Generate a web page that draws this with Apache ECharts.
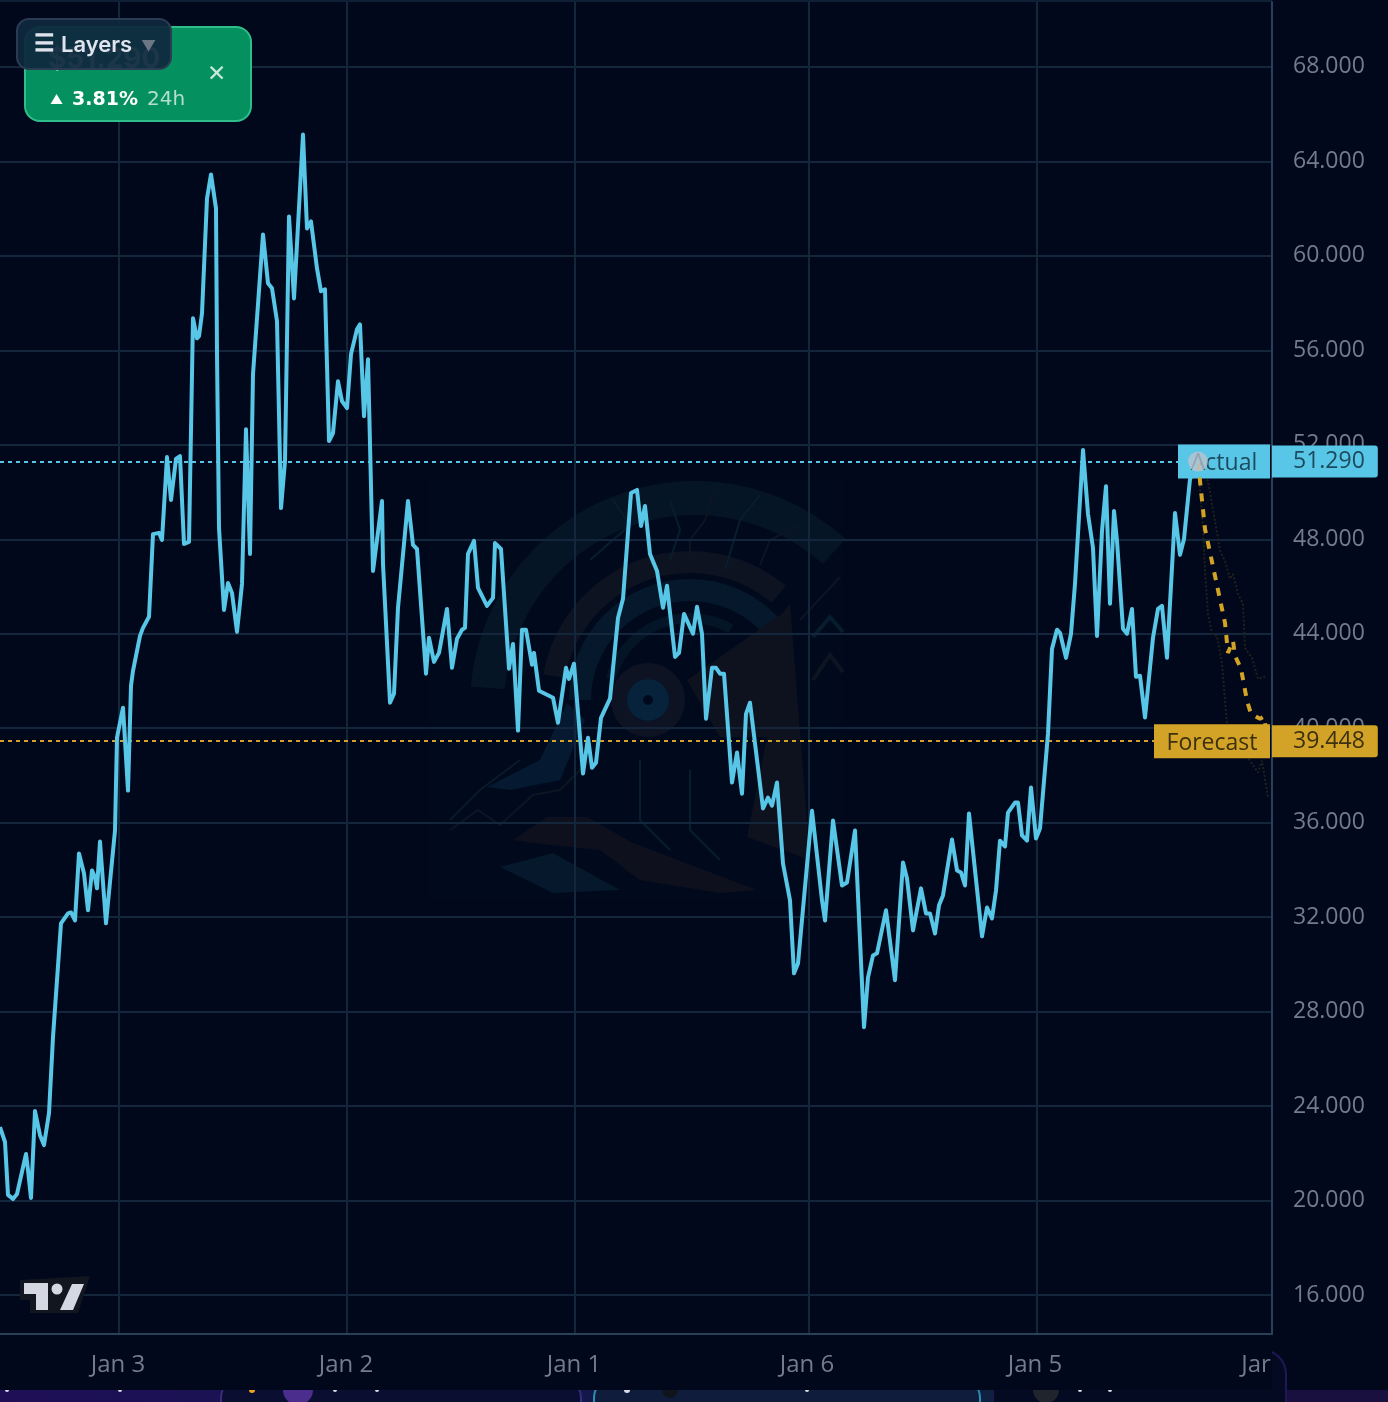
<!DOCTYPE html>
<html>
<head>
<meta charset="utf-8">
<title>Actual vs Forecast</title>
<style>
html, body { margin: 0; padding: 0; background: #01081b; }
#main { width: 1388px; height: 1402px; filter: blur(0.6px); }
</style>
<script src="https://cdn.jsdelivr.net/npm/echarts@6/dist/echarts.min.js"></script>
</head>
<body>
<div id="main"></div>
<script>
// sample number along the time axis, one series of readings per array
var actualIdx = [
  0, 5, 8, 13, 17, 26, 28, 31, 35, 40, 44, 49, 53, 61, 68, 71, 75, 79, 84, 88, 92, 95, 97, 100, 106, 115,
  117, 123, 125, 128, 131, 133, 140, 143, 149, 153, 155, 159, 162, 167, 171, 176, 180, 184, 189, 193, 197, 199, 202, 207, 211, 216, 217, 219,
  224, 228, 232, 237, 242, 246, 250, 253, 263, 268, 272, 277, 281, 285, 289, 294, 303, 307, 311, 317, 321, 325, 329, 333, 338, 342, 347, 351, 357, 360, 364, 368,
  373, 382, 383, 390, 394, 398, 408, 413, 417, 426, 429, 434, 439, 447, 452, 457, 462, 465, 468, 474, 478, 487, 493, 495, 501, 509, 513, 518, 522, 526, 532, 534, 539,
  553, 558, 566, 569, 574, 583, 588, 592, 596, 601, 610, 618, 623, 631, 637, 641, 645, 650, 657, 663, 667, 675, 679, 684, 693, 697, 702, 706, 712, 716, 720, 724,
  732, 737, 742, 746, 750, 763, 768, 772, 777, 783, 790, 794, 798, 812, 822, 825, 833, 842, 847, 855, 864, 868, 873, 877, 886, 895, 903, 907, 913, 921, 926, 930, 935, 939, 943, 952, 957, 961, 965, 969,
  982, 987, 992, 996, 1000, 1005, 1008, 1015, 1018, 1022, 1027, 1031, 1036, 1040, 1048, 1052, 1057, 1060, 1066, 1071, 1075, 1083, 1088, 1093, 1097, 1102, 1106, 1110, 1114, 1117, 1123, 1127, 1132, 1136, 1140, 1145, 1153, 1158, 1162, 1167, 1175, 1180, 1184, 1190, 1198
];
var actualPrice = [
  23.11, 22.48, 20.24, 20.07, 20.28, 21.97, 21.29, 20.11, 23.79, 22.77, 22.35, 23.70, 26.92, 31.74, 32.16, 32.20, 31.86, 34.70, 33.85, 32.29, 33.98, 33.68, 33.22, 35.20, 31.74, 35.67,
  39.60, 40.87, 39.47, 37.36, 41.80, 42.43, 43.91, 44.25, 44.72, 48.22, 48.27, 48.27, 47.97, 51.48, 49.66, 51.40, 51.52, 47.80, 47.89, 57.36, 56.51, 56.60, 57.57, 62.43, 63.45, 62.01, 55.84, 48.48,
  45.01, 46.15, 45.73, 44.08, 46.11, 52.66, 47.38, 54.99, 60.91, 58.84, 58.63, 57.23, 49.32, 51.31, 61.67, 58.20, 65.14, 61.16, 61.46, 59.47, 58.50, 58.58, 52.16, 52.50, 54.69, 53.85, 53.55, 55.84, 56.89, 57.10, 53.21, 55.62,
  46.66, 49.62, 46.96, 41.08, 41.46, 45.10, 49.62, 47.76, 47.59, 42.31, 43.83, 42.81, 43.19, 45.05, 42.56, 43.79, 44.17, 44.25, 47.38, 47.93, 45.94, 45.18, 45.52, 47.84, 47.59, 42.52, 43.57, 39.90, 44.17, 44.17, 42.69, 43.19, 41.59,
  41.29, 40.23, 42.56, 42.09, 42.73, 38.08, 39.60, 38.33, 38.54, 40.44, 41.25, 44.67, 45.48, 49.96, 50.09, 48.56, 49.41, 47.38, 46.66, 45.10, 46.03, 43.02, 43.19, 44.84, 44.00, 45.14, 44.00, 40.40, 42.56, 42.56, 42.31, 42.31,
  37.70, 38.97, 37.23, 40.61, 41.08, 36.60, 37.06, 36.72, 37.70, 34.27, 32.71, 29.62, 30.04, 36.51, 32.71, 31.86, 36.09, 33.34, 33.47, 35.67, 27.34, 29.45, 30.38, 30.47, 32.29, 29.33, 34.31, 33.64, 31.44, 33.22, 32.16, 32.16, 31.31, 32.50, 32.92, 35.29, 33.98, 33.89, 33.34, 36.39,
  31.19, 32.41, 31.95, 33.13, 35.24, 34.99, 36.43, 36.85, 36.85, 35.46, 35.24, 37.49, 35.33, 35.75, 39.77, 43.36, 44.17, 44.04, 42.98, 44.00, 46.11, 51.78, 49.07, 47.63, 43.91, 48.35, 50.25, 45.27, 49.20, 47.93, 44.21, 44.00, 45.05, 42.18, 42.22, 40.45, 43.83, 45.05, 45.18, 42.98, 49.11, 47.34, 48.01, 50.55, 51.29
];
var forecastIdx = [1198, 1205, 1215, 1225, 1228, 1233, 1235, 1241, 1247, 1251, 1260, 1264, 1268];
var forecastPrice = [51.29, 48.44, 46.45, 44.46, 43.19, 43.70, 43.07, 42.52, 41.16, 40.61, 40.40, 40.49, 39.448];
var upperIdx = [1198, 1208, 1215, 1220, 1225, 1230, 1233, 1238, 1243, 1245, 1252, 1258, 1267];
var upperPrice = [51.29, 50.47, 48.77, 47.51, 47.08, 46.32, 46.53, 45.69, 45.27, 43.40, 42.98, 42.09, 42.22];
var lowerIdx = [1198, 1203, 1205, 1208, 1212, 1217, 1222, 1227, 1240, 1250, 1258, 1262, 1268];
var lowerPrice = [51.29, 48.44, 46.66, 44.84, 44.00, 43.91, 42.73, 40.19, 39.26, 38.63, 38.12, 38.63, 37.06];

var actualLast = 51.290;
var forecastLast = 39.448;
var priceTicks = [16, 20, 24, 28, 32, 36, 40, 44, 48, 52, 56, 60, 64, 68];
var dayTicks = [119, 347, 575, 809, 1037];
var dayLabelTicks = [118, 346, 574, 807, 1035, 1256];
var dayLabels = ['Jan 3', 'Jan 2', 'Jan 1', 'Jan 6', 'Jan 5', 'Jar'];

var BG = '#01081b';
var GRID = '#14263c';
var FRAME = '#2a4058';
var CYAN = '#58c6e6';
var GOLD = '#d2a326';
var AXIS_TEXT = '#737c8b';
var FONT = '"Open Sans", sans-serif';
var WIDE = '"DejaVu Sans", sans-serif';

function zip(xs, ys) {
  return xs.map(function (x, i) { return [x, ys[i]]; });
}

// faint helmet logo behind the line, bottom strip, and the panels over the chart
function arcEl(cx, cy, r, a0, a1, color, w) {
  return {
    type: 'arc', z: -1, silent: true,
    shape: { cx: cx, cy: cy, r: r, startAngle: a0 * Math.PI / 180, endAngle: a1 * Math.PI / 180 },
    style: { stroke: color, lineWidth: w, fill: null }
  };
}
function polyEl(pts, fill) {
  return { type: 'polygon', z: -1, silent: true, shape: { points: pts }, style: { fill: fill } };
}
function wireEl(pts, color, w) {
  return { type: 'polyline', z: -1, silent: true, shape: { points: pts }, style: { stroke: color, lineWidth: w || 2, fill: null } };
}
function textEl(x, y, text, size, color, weight, z, font) {
  return {
    type: 'text', z: z || 100, silent: true, x: x, y: y,
    style: { text: text, fontSize: size, fontFamily: font || '"Inter", sans-serif', fontWeight: weight || 400, fill: color, verticalAlign: 'middle' }
  };
}
function dotEl(x, color, r) {
  return { type: 'circle', z: -1, silent: true, shape: { cx: x, cy: 1390, r: r }, style: { fill: color } };
}

var logo = [
  { type: 'rect', z: -1, silent: true, shape: { x: 430, y: 480, width: 412, height: 420 }, style: { fill: 'rgba(6,24,44,0.12)' } },
  arcEl(695, 706, 208, 185, 312, '#061526', 34),
  arcEl(690, 700, 138, 190, 310, '#0e1321', 22),
  arcEl(690, 700, 110, 180, 318, '#05182c', 22),
  arcEl(690, 700, 82, 195, 300, '#051528', 10),
  arcEl(648, 700, 29, 0, 360, '#0d1322', 16),
  arcEl(648, 700, 13, 0, 360, '#06233b', 16),
  polyEl([[783, 613], [687, 680], [720, 737], [767, 737], [747, 837], [810, 860], [790, 603]], '#0e111e'),
  polyEl([[513, 840], [547, 817], [587, 817], [633, 843], [757, 890], [720, 893], [640, 880], [600, 850], [550, 845]], '#0e111d'),
  polyEl([[500, 867], [553, 853], [620, 890], [553, 893]], '#05182c'),
  polyEl([[487, 787], [540, 760], [567, 703], [585, 720], [560, 780], [510, 790]], '#051a30'),
  wireEl([[450, 820], [480, 790], [520, 760]], '#081a2b'),
  wireEl([[450, 830], [478, 810], [500, 825], [533, 795], [560, 790], [590, 760]], '#0d1522'),
  wireEl([[613, 500], [630, 525], [590, 560]], '#081d30'),
  wireEl([[670, 500], [680, 530], [670, 560]], '#081d30'),
  wireEl([[715, 490], [705, 520], [690, 540], [690, 560]], '#0d1522'),
  wireEl([[760, 495], [740, 520], [725, 570]], '#081d30'),
  wireEl([[800, 525], [770, 540], [760, 565]], '#0d1522'),
  wireEl([[800, 620], [840, 577]], '#0d1522'),
  wireEl([[813, 637], [830, 617], [843, 632]], '#071c2e', 4),
  wireEl([[813, 680], [830, 655], [843, 672]], '#0e1522', 4),
  wireEl([[640, 760], [640, 820], [670, 850]], '#081d30'),
  wireEl([[690, 770], [690, 830], [720, 860]], '#081d30'),
  { type: 'rect', z: -1, silent: true, shape: { x: 0, y: 0, width: 1272, height: 2 }, style: { fill: '#0f1f35' } }
];

var strip = [
  { type: 'rect', z: -3, silent: true, shape: { x: 993, y: 1350, width: 293, height: 80, r: 24 }, style: { fill: '#040a22', stroke: '#1e1854', lineWidth: 2 } },
  { type: 'rect', z: -2, silent: true, shape: { x: 0, y: 1336, width: 1272, height: 54 }, style: { fill: BG } },
  { type: 'rect', z: -2, silent: true, shape: { x: 0, y: 1390, width: 993, height: 12 }, style: { fill: new echarts.graphic.LinearGradient(0, 0, 1, 0, [{ offset: 0, color: '#1f0f58' }, { offset: 0.6, color: '#13184a' }, { offset: 1, color: '#102040' }]) } },
  { type: 'rect', z: -2, silent: true, shape: { x: 1287, y: 1390, width: 101, height: 12 }, style: { fill: '#1a1040' } },
  { type: 'rect', z: -1, silent: true, shape: { x: 221, y: 1378, width: 360, height: 50, r: 20 }, style: { fill: '#0a0e30', stroke: '#3a2a80', lineWidth: 2 } },
  { type: 'rect', z: -1, silent: true, shape: { x: 594, y: 1378, width: 386, height: 50, r: 20 }, style: { fill: '#0f1c3c', stroke: '#2b8fb0', lineWidth: 2 } },
  dotEl(7, '#d8dce4', 2), dotEl(120, '#d8dce4', 2), dotEl(252, '#f0a020', 3), dotEl(298, '#4a2d8c', 15),
  dotEl(335, '#d8dce4', 2), dotEl(377, '#d8dce4', 2), dotEl(627, '#d8dce4', 3), dotEl(670, '#10141c', 8),
  dotEl(807, '#d8dce4', 2), dotEl(1046, '#20242c', 13), dotEl(1080, '#d8dce4', 2), dotEl(1110, '#d8dce4', 2),
  { type: 'rect', z: -1, silent: true, shape: { x: 0, y: 1340, width: 1272, height: 50 }, style: { fill: BG } }
];

var panels = [
  { type: 'rect', z: 90, silent: true, shape: { x: 25, y: 27, width: 226, height: 94, r: 15 }, style: { fill: '#059060', stroke: '#2fbd8a', lineWidth: 2 } },
  textEl(48, 60, '$51.290', 28, '#ffffff', 700, 91),
  textEl(50, 100, '▲', 13, '#ffffff', 400, 92),
  textEl(72, 100, '3.81%', 19, '#ffffff', 700, 92, WIDE),
  textEl(147, 100, '24h', 20, '#b4dfcd', 400, 92, WIDE),
  textEl(207, 74, '✕', 23, '#c9e8da', 400, 92),
  { type: 'rect', z: 95, silent: true, shape: { x: 17, y: 19, width: 154, height: 50, r: 12 }, style: { fill: 'rgba(15,40,62,0.94)', stroke: '#2a3b52', lineWidth: 2 } },
  textEl(34, 44, '☰', 23, '#dde2ec', 700, 96),
  textEl(61, 45, 'Layers', 22, '#dfe4ee', 600, 96),
  textEl(141, 46, '▼', 15, '#6c7685', 400, 96),
  // chart maker's mark, bottom left
  { type: 'polygon', z: 20, silent: true, shape: { points: [[20, 1280], [90, 1276], [78, 1313], [30, 1313], [30, 1300], [20, 1300]] }, style: { fill: '#12161f' } },
  { type: 'polygon', z: 21, silent: true, shape: { points: [[24, 1283], [48, 1283], [48, 1310], [36, 1310], [36, 1294], [24, 1294]] }, style: { fill: '#d5d8e2' } },
  { type: 'circle', z: 21, silent: true, shape: { cx: 57, cy: 1289, r: 5.5 }, style: { fill: '#d5d8e2' } },
  { type: 'polygon', z: 21, silent: true, shape: { points: [[72, 1284], [84, 1284], [73, 1310], [60, 1310]] }, style: { fill: '#d5d8e2' } }
];

var myChart = echarts.init(document.getElementById('main'), null, { renderer: 'canvas' });

var option = {
  backgroundColor: BG,
  animation: false,
  graphic: { elements: logo.concat(strip, panels) },
  grid: { left: 0, right: 116, top: 2, bottom: 68 },
  xAxis: {
    type: 'value',
    min: 0,
    max: 1272,
    axisLine: { show: true, onZero: false, lineStyle: { color: FRAME, width: 2 } },
    axisTick: { show: false, customValues: dayTicks },
    splitLine: { show: true, lineStyle: { color: GRID, width: 2 } },
    axisLabel: {
      customValues: dayLabelTicks,
      margin: 19,
      fontSize: 24,
      fontFamily: FONT,
      color: AXIS_TEXT,
      formatter: function (val) { return dayLabels[dayLabelTicks.indexOf(val)]; }
    }
  },
  yAxis: {
    type: 'value',
    position: 'right',
    min: 14.35,
    max: 70.75,
    axisLine: { show: true, onZero: false, lineStyle: { color: FRAME, width: 2 } },
    axisTick: { show: false, customValues: priceTicks },
    splitLine: { show: true, lineStyle: { color: GRID, width: 2 } },
    axisLabel: {
      customValues: priceTicks,
      margin: 21,
      padding: [6, 0, 0, 0],
      fontSize: 23,
      fontFamily: FONT,
      color: AXIS_TEXT,
      formatter: function (val) { return val.toFixed(3); }
    }
  },
  series: [
    {
      name: 'Upper',
      type: 'line',
      z: 3,
      symbol: 'none',
      data: zip(upperIdx, upperPrice),
      lineStyle: { color: '#22221c', width: 2, type: 'dotted' }
    },
    {
      name: 'Lower',
      type: 'line',
      z: 3,
      symbol: 'none',
      data: zip(lowerIdx, lowerPrice),
      lineStyle: { color: '#22221c', width: 2, type: 'dotted' }
    },
    {
      name: 'Forecast',
      type: 'line',
      z: 6,
      symbol: 'none',
      data: zip(forecastIdx, forecastPrice),
      lineStyle: { color: GOLD, width: 4, type: [8, 8] },
      markLine: {
        silent: true,
        symbol: 'none',
        lineStyle: { color: GOLD, width: 2, type: [4, 4] },
        label: {
          position: 'end',
          distance: 0,
          formatter: forecastLast.toFixed(3),
          fontSize: 23,
          fontFamily: FONT,
          color: '#3d3010',
          backgroundColor: GOLD,
          padding: [8, 13, 1, 21],
          borderRadius: [0, 3, 3, 0]
        },
        data: [{ yAxis: forecastLast }]
      },
      markPoint: {
        silent: true,
        symbol: 'rect',
        symbolSize: [116, 34],
        itemStyle: { color: GOLD },
        label: { show: true, formatter: 'Forecast', offset: [0, 2], fontSize: 23, fontFamily: FONT, color: '#3d3010' },
        data: [{ coord: [1212, forecastLast] }]
      }
    },
    {
      name: 'Actual',
      type: 'line',
      z: 7,
      symbol: 'none',
      data: zip(actualIdx, actualPrice),
      lineStyle: { color: CYAN, width: 4, join: 'round' },
      markLine: {
        silent: true,
        symbol: 'none',
        lineStyle: { color: CYAN, width: 2, type: [4, 4] },
        label: {
          position: 'end',
          distance: 0,
          formatter: actualLast.toFixed(3),
          fontSize: 23,
          fontFamily: FONT,
          color: '#1d4a5e',
          backgroundColor: CYAN,
          padding: [8, 13, 1, 21],
          borderRadius: [0, 3, 3, 0]
        },
        data: [{ yAxis: actualLast }]
      },
      markPoint: {
        silent: true,
        symbol: 'rect',
        symbolSize: [92, 34],
        itemStyle: { color: CYAN },
        label: { show: true, formatter: 'Actual', offset: [0, 2], fontSize: 23, fontFamily: FONT, color: '#1d4a5e' },
        data: [{ coord: [1224, actualLast] }]
      }
    },
    {
      name: 'Last',
      type: 'scatter',
      z: 12,
      symbolSize: 20,
      itemStyle: { color: 'rgba(195,195,205,0.9)' },
      data: [[1198, actualLast]]
    }
  ]
};

myChart.setOption(option);
window.addEventListener('resize', function () {
  myChart.resize();
});
</script>
</body>
</html>
